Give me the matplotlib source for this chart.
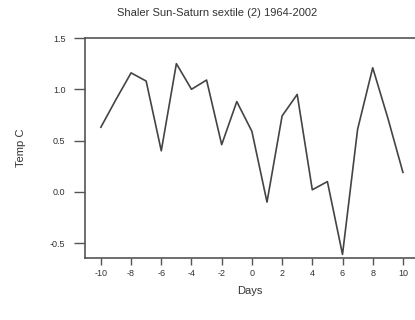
import matplotlib
matplotlib.use("Agg")
import matplotlib.pyplot as plt

days = [-10, -9, -8, -7, -6, -5, -4, -3, -2, -1, 0, 1, 2, 3, 4, 5, 6, 7, 8, 9, 10]
temp = [0.63, 0.90, 1.16, 1.08, 0.40, 1.25, 1.00, 1.09, 0.46, 0.88, 0.59, -0.10,
        0.74, 0.95, 0.02, 0.10, -0.61, 0.61, 1.21, 0.72, 0.19]
xticks = [-10, -8, -6, -4, -2, 0, 2, 4, 6, 8, 10]
yticks = [-0.5, 0.0, 0.5, 1.0, 1.5]
title = "Shaler Sun-Saturn sextile (2) 1964-2002"

plt.rcParams['font.family'] = ['Liberation Sans', 'DejaVu Sans']
col = '#555555'
fig = plt.figure(figsize=(4.15, 3.2), dpi=100)
ax = fig.add_axes([85/415, 62/320, 330/415, 220/320])
ax.plot(days, temp, color='#444444', lw=1.2)
ax.set_xlim(-11.05, 10.8)
ax.set_ylim(-0.645, 1.5)
ax.set_xticks(xticks)
ax.set_xticklabels([str(t) for t in xticks])
ax.set_yticks(yticks)
ax.set_yticklabels([f"{t:.1f}" for t in yticks])
for s in ['left', 'bottom', 'top']:
    ax.spines[s].set_color(col)
    ax.spines[s].set_linewidth(1.2)
ax.spines['right'].set_visible(False)
ax.tick_params(axis='x', length=5, width=1, color=col, labelsize=6.5, labelcolor='#333333', pad=3)
ax.tick_params(axis='y', length=8, width=1, color=col, labelsize=6.5, labelcolor='#333333', pad=6)
ax.set_xlabel('Days', fontsize=8, color='#333333', labelpad=6)
ax.set_ylabel('Temp C', fontsize=8, color='#333333', labelpad=17)
fig.text(217/415, 1 - 13/320, title, ha='center', va='center', fontsize=8, color='#333333')
fig.savefig('out.png', dpi=100)
